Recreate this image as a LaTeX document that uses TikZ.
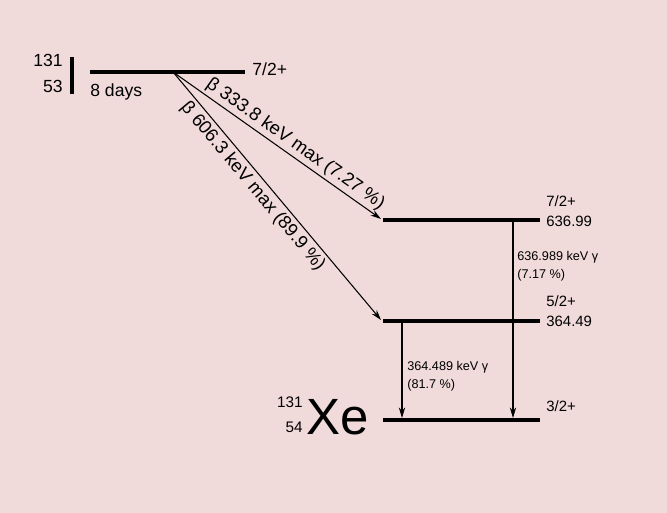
\documentclass[tikz,border=0pt]{standalone}
\usepackage{fontspec}
\setmainfont{Liberation Sans}
\definecolor{bgpink}{HTML}{F0DADA}
\usepackage{tikz}
\usetikzlibrary{arrows.meta,positioning,calc}

\begin{document}
\begin{tikzpicture}[x=0.02cm,y=-0.02cm,
    level/.style={line width=2.3pt},
    decay/.style={-{Stealth[length=6pt,width=3.6pt]},line width=0.6pt},
    txt/.style={inner sep=0pt,font=\fontsize{10}{12}\selectfont},
    spin/.style={inner sep=0pt,anchor=base west,font=\fontsize{8.5}{10}\selectfont},
    gam/.style={inner sep=0pt,anchor=base west,font=\fontsize{7.2}{9}\selectfont},
    beta/.style={sloped,font=\fontsize{10.5}{12}\selectfont}]
    \fill[bgpink] (0,0) rectangle (667,513);
    \useasboundingbox (0,0) rectangle (667,513);
    % parent I-131
    \coordinate (Ia) at (90,72);
    \coordinate (Ib) at (245,72);
    \coordinate (Ibeta) at (173,72);
    \draw[level] (Ia) -- (Ib);
    \draw[level] (72,57) -- (72,94);
    \node[txt,anchor=base east] (Imass) at (63,67) {131};
    \node[txt,anchor=base east] (Iz) at (63,93) {53};
    \node[txt,anchor=base west] (Ihalf) at (90,97) {8 days};
    \node[txt,anchor=base west] (Ispin) at (252,76) {7/2+};
    % Xe-131 levels
    \coordinate (Ea) at (383,220);
    \coordinate (Eb) at (540,220);
    \coordinate (Da) at (383,321);
    \coordinate (Db) at (540,321);
    \coordinate (Ga) at (383,420);
    \coordinate (Gb) at (540,420);
    \draw[level] (Ea) -- (Eb);
    \draw[level] (Da) -- (Db);
    \draw[level] (Ga) -- (Gb);
    \node[spin] (Espin) at (546,207) {7/2+};
    \node[spin] (Eval) at (546,226.5) {636.99};
    \node[spin] (Dspin) at (546,307) {5/2+};
    \node[spin] (Dval) at (546,326.5) {364.49};
    \node[spin] (Gspin) at (546,412) {3/2+};
    \node[txt,anchor=base east,font=\fontsize{8.7}{10}\selectfont] (Xmass) at (303,408) {131};
    \node[txt,anchor=base east,font=\fontsize{8.7}{10}\selectfont] (Xz) at (303,433) {54};
    \node[txt,anchor=base west,font=\fontsize{29}{30}\selectfont] (Xe) at (306,435) {Xe};
    % beta decays
    \coordinate (Eb1) at (381,219);
    \coordinate (Db1) at (381,320);
    \draw[decay] (Ibeta) -- node[beta,above,inner sep=1.5pt,pos=0.556] (b1) {β 333.8 keV max (7.27 \%)} (Eb1);
    \draw[decay] (Ibeta) -- node[beta,below,inner sep=2pt,pos=0.43] (b2) {β 606.3 keV max (89.9 \%)} (Db1);
    % gamma transitions
    \coordinate (Eg) at (513,221);
    \coordinate (Gg1) at (513,418);
    \coordinate (Dg) at (402,322);
    \coordinate (Gg2) at (402,418);
    \draw[decay] (Eg) -- (Gg1);
    \draw[decay] (Dg) -- (Gg2);
    \node[gam] (g1) at (517,260.7) {636.989 keV γ};
    \node[gam] (g1p) at (517,278.5) {(7.17 \%)};
    \node[gam] (g2) at (407,370.7) {364.489 keV γ};
    \node[gam] (g2p) at (407,388.3) {(81.7 \%)};
\end{tikzpicture}
\end{document}
